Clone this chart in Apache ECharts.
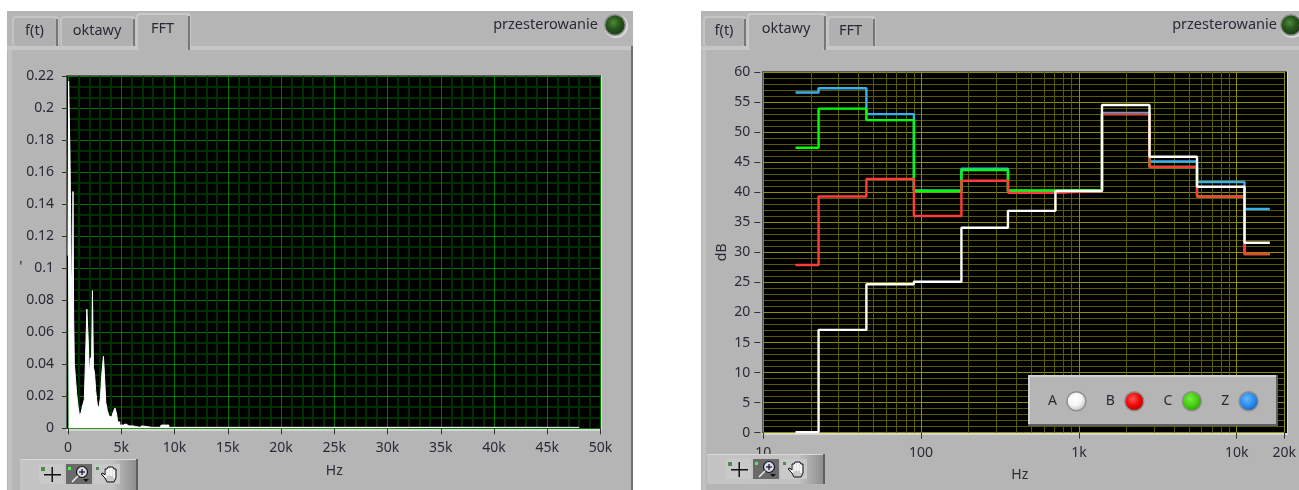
<!DOCTYPE html>
<html>
<head>
<meta charset="utf-8">
<title>FFT / oktawy</title>
<script src="https://cdn.jsdelivr.net/npm/echarts@6/dist/echarts.min.js"></script>
<style>
  html, body { margin: 0; padding: 0; background: #ffffff; }
  #chart { width: 1299px; height: 490px; }
</style>
</head>
<body>
<div id="chart"></div>
<script>
// FFT widmo - czestotliwosc [Hz] i amplituda
const fftFreq = [0, 120, 250, 350, 440, 500, 560, 630, 750, 890, 1030, 1125, 1310, 1470, 1590, 1690, 1850, 1940, 2060, 2160, 2250, 2340, 2440, 2530, 2690, 2810, 3000, 3090, 3280, 3375, 3470, 3630, 3750, 3940, 4125, 4310, 4500, 4590, 4750, 4970, 5440, 5720, 6470, 6560, 6940, 7125, 8625, 8900, 9280, 9660, 10030, 48000];
const fftAmp = [0.108, 0.217, 0.171, 0.1, 0.075, 0.148, 0.07, 0.041, 0.032, 0.021, 0.0127, 0.008, 0.0096, 0.0146, 0.018, 0.042, 0.0745, 0.056, 0.033, 0.044, 0.038, 0.086, 0.038, 0.035, 0.023, 0.0146, 0.0127, 0.019, 0.0346, 0.045, 0.034, 0.016, 0.0113, 0.0077, 0.007, 0.0096, 0.0127, 0.0096, 0.004, 0.002, 0.0027, 0.0015, 0.001, 0.0006, 0.0015, 0.0006, 0.0006, 0.002, 0.002, 0.0006, 0.0006, 0.0006];

// oktawy - granice pasm i poziomy
const bandEdges = [16, 22.4, 45, 90, 180, 355, 710, 1400, 2800, 5600, 11200, 16200];
const levelA = [0.1, 17.1, 24.7, 25.1, 34.1, 36.9, 40.2, 54.5, 45.9, 40.9, 31.6];
const levelB = [27.9, 39.3, 42.2, 36.05, 41.9, 39.9, 40.2, 53.0, 44.2, 39.3, 29.7];
const levelC = [47.4, 53.9, 52.0, 40.2, 43.7, 40.3, 40.4, 53.0, 44.2, 39.3, 29.7];
const levelZ = [56.6, 57.3, 53.0, 40.3, 43.9, 40.2, 40.2, 53.2, 45.1, 41.7, 37.2];

const logMinorLines = [20, 30, 40, 50, 60, 70, 80, 90, 200, 300, 400, 500, 600, 700, 800, 900, 2000, 3000, 4000, 5000, 6000, 7000, 8000, 9000];

const FONT = '"Noto Sans", sans-serif';
const TXT = '#2a2a36';
const GREY = '#b5b5b5';

function stepData(levels) {
  const pts = levels.map((v, i) => [bandEdges[i], v]);
  pts.push([bandEdges[bandEdges.length - 1], levels[levels.length - 1]]); // ostatni pas do konca
  return pts;
}

function kLabel(v) {
  if (v >= 1000) return Math.round(v / 1000) + 'k';
  return Math.round(v) + '';
}

function ledColor(c0, c1, c2) {
  return {
    type: 'radial', x: 0.42, y: 0.38, r: 0.62,
    colorStops: [{ offset: 0, color: c0 }, { offset: 0.55, color: c1 }, { offset: 1, color: c2 }]
  };
}

function rect(x, y, w, h, fill, z, r) {
  return { type: 'rect', silent: true, z: z, shape: { x: x, y: y, width: w, height: h, r: r || 0 }, style: { fill: fill } };
}

function label(x, y, str, align, z) {
  return {
    type: 'text', silent: true, z: z || 1, x: x, y: y,
    style: { text: str, fill: TXT, font: '14.5px ' + FONT, align: align || 'center', verticalAlign: 'middle' }
  };
}

function tab(x, w, str, active) {
  const top = active ? 13 : 16;
  const bottom = active ? 50 : 46;
  return [
    rect(x, top, w, bottom - top, active ? '#c9c9c9' : '#c4c4c4', 0, 4),
    rect(x + 2, top + 2, w - 5, bottom - top - 2, active ? GREY : '#b0b0b0', 0, 3),
    rect(x + w - 3, top + 3, 2, bottom - top - 3, '#777777', 0),
    label(x + w / 2 - 1, active ? 29 : 31, str)
  ];
}

function led(cx) {
  return [
    { type: 'circle', silent: true, z: 0, shape: { cx: cx + 1, cy: 26, r: 12 }, style: { fill: '#d8d8d8' } },
    { type: 'circle', silent: true, z: 0, shape: { cx: cx, cy: 25, r: 11 }, style: { fill: '#8c8c8c' } },
    { type: 'circle', silent: true, z: 0, shape: { cx: cx, cy: 25, r: 9.5 }, style: { fill: ledColor('#4f8a3a', '#27561c', '#1c3f14') } }
  ];
}

function panel(x, w, hasShadow) {
  const els = [
    rect(x, 11, w, 479, GREY, -1),
    rect(x, 46, w, 4, '#c6c6c6', -1),
    rect(x + 1, 50, 4, 440, '#c0c0c0', -1)
  ];
  if (hasShadow) els.push(rect(x + w - 2, 46, 2, 444, '#6f6f6f', -1));
  return els;
}

function toolbar(x, y, h) {
  const z = 10;
  const by = y + 5;
  const els = [
    {
      type: 'rect', silent: true, z: z, shape: { x: x, y: y, width: 118, height: h },
      style: { fill: { type: 'linear', x: 0, y: 0, x2: 1, y2: 0, colorStops: [{ offset: 0, color: '#c4c4c4' }, { offset: 0.78, color: '#c2c2c2' }, { offset: 1, color: '#8a8a8a' }] } }
    },
    rect(x + 116, y, 2, h, '#5f5f5f', z),
    rect(x, y, 116, 1, '#d8d8d8', z),
    rect(x + 19, by, 25, 20, '#c9c9c9', z),
    rect(x + 46, by, 26, 20, '#6a6a6a', z),
    rect(x + 74, by, 26, 20, '#c9c9c9', z)
  ];
  // kursor
  els.push(rect(x + 24, by + 10, 17, 1.5, '#111111', z + 1));
  els.push(rect(x + 31.5, by + 3, 1.5, 15, '#111111', z + 1));
  els.push(rect(x + 21, by + 3, 4, 4, '#4f8a4f', z + 1));
  // zoom
  els.push({ type: 'circle', silent: true, z: z + 1, shape: { cx: x + 62, cy: by + 8, r: 5.5 }, style: { fill: '#d8d8ee', stroke: '#111111', lineWidth: 1.2 } });
  els.push(rect(x + 59, by + 7.4, 6, 1.2, '#111111', z + 2));
  els.push(rect(x + 61.4, by + 5, 1.2, 6, '#111111', z + 2));
  els.push({ type: 'line', silent: true, z: z + 1, shape: { x1: x + 58, y1: by + 12, x2: x + 52, y2: by + 18 }, style: { stroke: '#f0f0f0', lineWidth: 1.5 } });
  els.push(rect(x + 48, by + 3, 3, 3, '#55ee55', z + 1));
  els.push({ type: 'polygon', silent: true, z: z + 1, shape: { points: [[x + 63, by + 15], [x + 69, by + 15], [x + 66, by + 18]] }, style: { fill: '#111111' } });
  // raczka
  [0, 3, 6, 9].forEach(function (dx, i) {
    els.push(rect(x + 84 + dx, by + (i === 0 || i === 3 ? 5 : 3), 2.6, 9, '#f3f3f3', z + 1, 1));
  });
  els.push({
    type: 'polyline', silent: true, z: z + 2,
    shape: { points: [[x + 85, by + 14], [x + 81, by + 10], [x + 83, by + 9], [x + 85, by + 11], [x + 85, by + 5], [x + 87, by + 5], [x + 88, by + 3], [x + 90, by + 3], [x + 91, by + 3], [x + 93, by + 3], [x + 94, by + 5], [x + 96, by + 5], [x + 96, by + 14], [x + 94, by + 18], [x + 87, by + 18], [x + 85, by + 14]] },
    style: { stroke: '#111111', fill: 'none', lineWidth: 1 }
  });
  els.push(rect(x + 76, by + 3, 3, 3, '#4f8a4f', z + 1));
  return els;
}

function plotFrame(x0, y0, x1, y1) {
  return [
    rect(x0, y0, x1 - x0, y1 - y0, '#000000', -1),
    rect(x0, y0, x1 - x0, 1, '#5a5a5a', -1),
    rect(x0, y0, 1, y1 - y0, '#5a5a5a', -1),
    rect(x1, y0, 1, y1 - y0 + 2, '#d6d6d6', -1),
    rect(x0, y1, x1 - x0 + 1, 2, '#d6d6d6', -1)
  ];
}

const graphics = [].concat(
  panel(7, 626, true),
  panel(701, 598, false),
  tab(12, 47, 'f(t)', false),
  tab(60, 76, 'oktawy', false),
  tab(136, 55, 'FFT', true),
  tab(703, 44, 'f(t)', false),
  tab(747, 80, 'oktawy', true),
  tab(827, 49, 'FFT', false),
  plotFrame(66, 75, 601, 429),
  plotFrame(762, 71, 1287, 433),
  led(615), led(1291),
  [label(598, 25, 'przesterowanie', 'right'), label(1277, 25, 'przesterowanie', 'right'), label(21, 267, "'", 'center')],
  toolbar(20, 459, 31),
  toolbar(707, 454, 30),
  [
    rect(1028, 375, 250, 51, '#b5b5b5', 3),
    rect(1028, 375, 250, 2, '#d2d2d2', 5),
    rect(1028, 375, 2, 51, '#d2d2d2', 5),
    rect(1028, 424, 250, 2, '#5f5f5f', 5),
    rect(1276, 375, 2, 51, '#5f5f5f', 5)
  ]
);

const chart = echarts.init(document.getElementById('chart'));

const axisText = { color: TXT, fontFamily: FONT, fontSize: 14 };
const tickStyle = { show: true, length: 6, lineStyle: { color: '#333333', width: 1 } };

function stepSeries(name, levels, color, z) {
  return {
    name: name, type: 'line', xAxisIndex: 1, yAxisIndex: 1, step: 'end', z: z,
    data: stepData(levels), showSymbol: false, silent: true,
    lineStyle: { color: color, width: 2.4 }, itemStyle: { color: color }
  };
}

const option = {
  backgroundColor: '#ffffff',
  animation: false,
  graphic: { elements: graphics },
  grid: [
    { left: 68, top: 76.3, width: 532.5, height: 352, show: false },
    { left: 763.3, top: 72, width: 523.9, height: 360.7, show: false }
  ],
  legend: {
    left: 1048, top: 391, padding: 0, align: 'right', orient: 'horizontal',
    itemWidth: 19, itemHeight: 19, itemGap: 19, icon: 'circle', selectedMode: false, z: 6,
    textStyle: { color: TXT, fontFamily: FONT, fontSize: 14, padding: [0, 5, 0, 0] },
    data: [
      { name: 'A', itemStyle: { color: ledColor('#ffffff', '#f4f4f4', '#bdbdbd'), borderColor: '#8e8e8e', borderWidth: 1.5 } },
      { name: 'B', itemStyle: { color: ledColor('#ff5555', '#f00808', '#b00000'), borderColor: '#8e8e8e', borderWidth: 1.5 } },
      { name: 'C', itemStyle: { color: ledColor('#77ee44', '#44d010', '#2f9c08'), borderColor: '#8e8e8e', borderWidth: 1.5 } },
      { name: 'Z', itemStyle: { color: ledColor('#66b8ff', '#2e8cee', '#1c62b8'), borderColor: '#8e8e8e', borderWidth: 1.5 } }
    ]
  },
  xAxis: [
    {
      type: 'value', gridIndex: 0, min: 0, max: 50000, interval: 5000, offset: 3,
      name: 'Hz', nameLocation: 'middle', nameGap: 33,
      nameTextStyle: axisText,
      axisLine: { show: false }, axisTick: tickStyle,
      axisLabel: Object.assign({ margin: 10, formatter: kLabel, showMinLabel: true, showMaxLabel: true }, axisText),
      splitLine: { show: true, lineStyle: { color: '#007800', width: 1 } },
      minorTick: { show: false, splitNumber: 5 },
      minorSplitLine: { show: true, lineStyle: { color: '#003000', width: 2 } }
    },
    {
      type: 'log', gridIndex: 1, logBase: 10, min: 10, max: 20000, offset: 3,
      name: 'Hz', nameLocation: 'middle', nameGap: 32,
      nameTextStyle: Object.assign({ padding: [0, 8, 0, 0] }, axisText),
      axisLine: { show: false }, axisTick: tickStyle,
      axisLabel: Object.assign({ margin: 10, formatter: kLabel, showMinLabel: true, showMaxLabel: true, hideOverlap: false }, axisText),
      splitLine: { show: true, lineStyle: { color: '#8f8f00', width: 1 } },
      minorSplitLine: { show: false }
    }
  ],
  yAxis: [
    {
      type: 'value', gridIndex: 0, min: 0, max: 0.22, interval: 0.02, offset: 4,
      axisLine: { show: false }, axisTick: tickStyle,
      axisLabel: Object.assign({ margin: 10, showMinLabel: true, showMaxLabel: true }, axisText),
      splitLine: { show: true, lineStyle: { color: '#007800', width: 1 } },
      minorTick: { show: false, splitNumber: 3 },
      minorSplitLine: { show: true, lineStyle: { color: '#003000', width: 2 } }
    },
    {
      type: 'value', gridIndex: 1, min: 0, max: 60, interval: 5, offset: 3,
      name: 'dB', nameLocation: 'middle', nameGap: 31, nameRotate: 90, nameTextStyle: axisText,
      axisLine: { show: false }, axisTick: tickStyle,
      axisLabel: Object.assign({ margin: 10, showMinLabel: true, showMaxLabel: true }, axisText),
      splitLine: { show: true, lineStyle: { color: '#8f8f00', width: 1 } },
      minorTick: { show: false, splitNumber: 5 },
      minorSplitLine: { show: true, lineStyle: { color: '#5a5a00', width: 1 } }
    }
  ],
  series: [
    {
      name: 'FFT', type: 'line', xAxisIndex: 0, yAxisIndex: 0, z: 2, step: 'middle',
      data: fftFreq.map((f, i) => [f, fftAmp[i]]),
      showSymbol: false, silent: true,
      lineStyle: { color: '#ffffff', width: 1 },
      areaStyle: { color: '#ffffff', opacity: 1 }
    },
    {
      // pionowe linie pomocnicze na osi log
      name: 'siatka', type: 'line', xAxisIndex: 1, yAxisIndex: 1, z: 1, data: [], silent: true,
      markLine: {
        silent: true, symbol: 'none', animation: false, label: { show: false }, z: 1,
        lineStyle: { color: '#5a5a00', width: 1, type: 'solid' },
        data: logMinorLines.map(v => ({ xAxis: v }))
      }
    },
    stepSeries('Z', levelZ, '#38b0f0', 2),
    stepSeries('C', levelC, '#00ff00', 2),
    stepSeries('B', levelB, '#ff3c3c', 2),
    stepSeries('A', levelA, '#ffffff', 2)
  ]
};

chart.setOption(option);
window.addEventListener('resize', () => chart.resize());
</script>
</body>
</html>
